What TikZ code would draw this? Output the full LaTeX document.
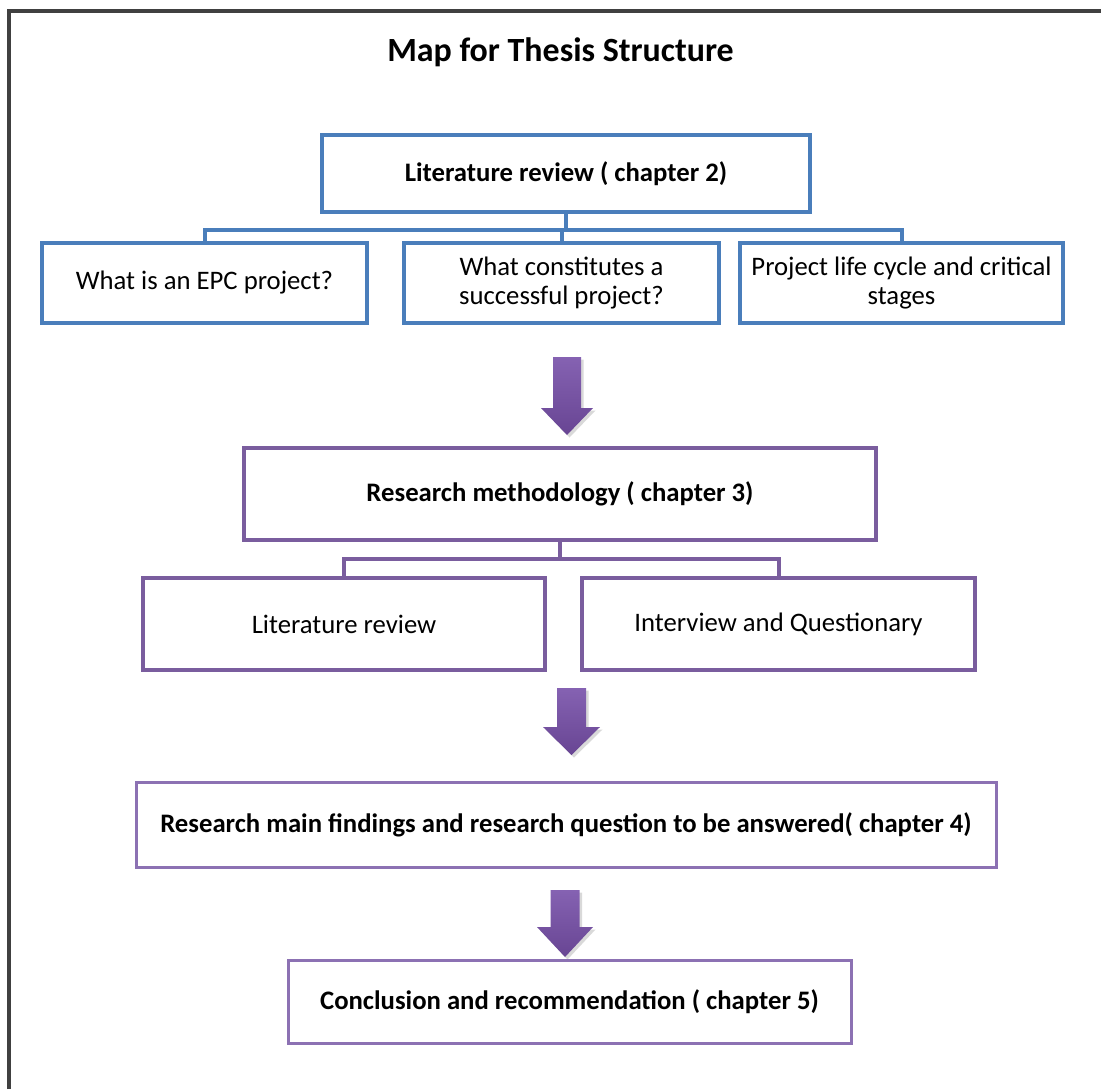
\documentclass[tikz,border=0pt]{standalone}
\usepackage{fontspec}
\setmainfont{Carlito}
\usepackage{tikz}
\usetikzlibrary{positioning,calc}
\definecolor{officeblue}{HTML}{4A7EBB}
\definecolor{plum}{HTML}{7A5D9E}
\definecolor{lilac}{HTML}{8C71B3}
\definecolor{arrowtop}{HTML}{8562B2}
\definecolor{arrowbot}{HTML}{684593}
\definecolor{framegrey}{HTML}{404040}
\tikzset{
  chapbox/.style={
    rectangle, draw=#1, fill=white, line width=0.08cm,
    font=\fontsize{15.2}{16.6}\selectfont, align=center, inner sep=4pt
  },
  chapbox/.default=officeblue,
  headbox/.style={
    chapbox=#1, font=\fontsize{15.2}{16.6}\selectfont\bfseries
  },
  headbox/.default=officeblue,
  linkline/.style={
    line width=0.08cm, color=#1
  },
  linkline/.default=officeblue,
}
% block arrow: centre x, top, start of head, tip, half shaft, half head
\newcommand{\purplearrow}[6]{%
  \fill[black, opacity=0.15]
    ({#1-#5+0.05},{#2-0.05}) -- ({#1+#5+0.05},{#2-0.05}) -- ({#1+#5+0.05},{#3-0.05})
    -- ({#1+#6+0.05},{#3-0.05}) -- ({#1+0.05},{#4-0.05}) -- ({#1-#6+0.05},{#3-0.05})
    -- ({#1-#5+0.05},{#3-0.05}) -- cycle;
  \shade[top color=arrowtop, bottom color=arrowbot]
    ({#1-#5},{#2}) -- ({#1+#5},{#2}) -- ({#1+#5},{#3})
    -- ({#1+#6},{#3}) -- ({#1},{#4}) -- ({#1-#6},{#3})
    -- ({#1-#5},{#3}) -- cycle;
}

\begin{document}
\begin{tikzpicture}
  \useasboundingbox (0,0) rectangle (22.02,-21.78);
  % page frame
  \draw[framegrey, line width=0.07cm] (0.18,-21.78) -- (0.18,-0.22) -- (22.02,-0.22);
  \node[font=\fontsize{19.3}{22}\selectfont\bfseries] (title) at (11.21,-1.04) {Map for Thesis Structure};

  % chapter 2
  \node[headbox, minimum width=9.76cm, minimum height=1.54cm] (lit) at (11.32,-3.47) {Literature review ( chapter 2)};
  \node[chapbox, minimum width=6.5cm, minimum height=1.6cm] (epc) at (4.09,-5.66) {What is an EPC project?};
  \node[chapbox, minimum width=6.3cm, minimum height=1.6cm] (success) at (11.23,-5.66) {What constitutes a\\successful project?};
  \node[chapbox, minimum width=6.46cm, minimum height=1.6cm] (cycle) at (18.03,-5.66) {Project life cycle and critical\\stages};
  \draw[linkline] (lit.south) -- ++(0,-0.32) coordinate (litbus);
  \draw[linkline] (epc.north) |- (litbus) -| (cycle.north);
  \draw[linkline] (litbus) -| (success.north);

  \purplearrow{11.34}{-7.14}{-8.16}{-8.70}{0.28}{0.52}

  % chapter 3
  \node[headbox=plum, minimum width=12.64cm, minimum height=1.84cm] (method) at (11.2,-9.88) {Research methodology ( chapter 3)};
  \node[chapbox=plum, minimum width=8.04cm, minimum height=1.84cm] (review) at (6.88,-12.48) {Literature review};
  \node[chapbox=plum, minimum width=7.86cm, minimum height=1.84cm] (interview) at (15.57,-12.48) {Interview and Questionary};
  \draw[linkline=plum] (method.south) -- ++(0,-0.34) coordinate (methbus);
  \draw[linkline=plum] (review.north) |- (methbus) -| (interview.north);

  \purplearrow{11.43}{-13.76}{-14.54}{-15.10}{0.29}{0.57}

  % chapter 4
  \node[headbox=lilac, line width=0.06cm, minimum width=17.2cm, minimum height=1.7cm] (findings) at (11.32,-16.49) {Research main findings and research question to be answered( chapter 4)};

  \purplearrow{11.30}{-17.80}{-18.54}{-19.14}{0.29}{0.56}

  % chapter 5
  \node[headbox=lilac, line width=0.06cm, minimum width=11.26cm, minimum height=1.66cm] (close) at (11.39,-20.03) {Conclusion and recommendation ( chapter 5)};
\end{tikzpicture}
\end{document}
